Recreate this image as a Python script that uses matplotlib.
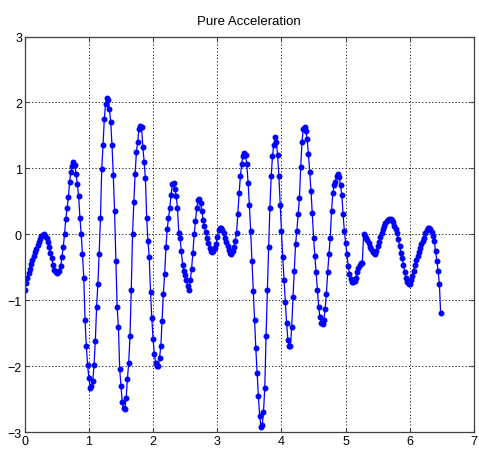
import numpy as np
import matplotlib
matplotlib.use("Agg")
import matplotlib.pyplot as plt

# sampled acceleration, one value every dt
dt = 0.02
accel = [
    -0.84, -0.74, -0.66, -0.59, -0.52, -0.45, -0.39, -0.33, -0.27, -0.22,
    -0.17, -0.12, -0.07, -0.03, -0.01, 0.00, -0.02, -0.06, -0.12, -0.20,
    -0.28, -0.36, -0.46, -0.54, -0.58, -0.59, -0.58, -0.56, -0.48, -0.35,
    -0.20, 0.00, 0.23, 0.40, 0.56, 0.80, 0.95, 1.04, 1.10, 1.05,
    0.92, 0.76, 0.58, 0.25, 0.00, -0.30, -0.66, -1.30, -1.70, -1.99,
    -2.18, -2.33, -2.30, -2.23, -1.98, -1.62, -1.10, -0.75, -0.30, 0.25,
    0.99, 1.35, 1.75, 1.98, 2.06, 2.03, 1.90, 1.70, 1.35, 0.90,
    0.35, -0.40, -1.11, -1.40, -2.05, -2.30, -2.55, -2.64, -2.65, -2.48,
    -2.20, -1.95, -1.55, -0.84, 0.00, 0.49, 0.91, 1.25, 1.40, 1.60,
    1.65, 1.63, 1.33, 1.10, 0.85, 0.25, -0.10, -0.35, -0.88, -1.27,
    -1.59, -1.82, -1.95, -2.00, -2.00, -1.88, -1.70, -1.32, -0.90, -0.60,
    -0.20, 0.08, 0.24, 0.40, 0.60, 0.76, 0.78, 0.68, 0.58, 0.40,
    0.02, -0.05, -0.25, -0.46, -0.55, -0.62, -0.70, -0.79, -0.84, -0.70,
    -0.52, -0.28, 0.00, 0.20, 0.40, 0.52, 0.53, 0.48, 0.35, 0.22,
    0.12, 0.04, -0.06, -0.14, -0.21, -0.26, -0.27, -0.25, -0.21, -0.15,
    -0.04, 0.06, 0.10, 0.10, 0.07, 0.02, -0.05, -0.11, -0.18, -0.24,
    -0.29, -0.30, -0.26, -0.20, -0.10, 0.02, 0.30, 0.62, 0.88, 1.06,
    1.19, 1.24, 1.20, 1.06, 0.78, 0.45, 0.05, -0.40, -0.86, -1.30,
    -1.72, -2.10, -2.45, -2.75, -2.92, -2.90, -2.70, -2.33, -1.55, -0.85,
    -0.20, 0.40, 0.88, 1.18, 1.36, 1.47, 1.40, 1.20, 0.88, 0.45,
    0.05, -0.35, -0.70, -1.02, -1.35, -1.60, -1.70, -1.70, -1.40, -0.95,
    -0.55, -0.15, 0.05, 0.30, 0.55, 1.02, 1.40, 1.60, 1.62, 1.56,
    1.44, 1.22, 0.95, 0.66, 0.32, -0.05, -0.33, -0.58, -0.85, -1.10,
    -1.26, -1.34, -1.36, -1.30, -1.14, -0.90, -0.58, -0.30, -0.05, 0.35,
    0.62, 0.74, 0.80, 0.88, 0.91, 0.87, 0.74, 0.60, 0.30, 0.05,
    -0.14, -0.30, -0.48, -0.60, -0.68, -0.72, -0.73, -0.71, -0.66, -0.58,
    -0.51, -0.46, -0.43, -0.43, 0.00, -0.02, -0.05, -0.09, -0.14, -0.19,
    -0.23, -0.27, -0.29, -0.30, -0.25, -0.18, -0.11, -0.04, 0.02, 0.08,
    0.13, 0.17, 0.20, 0.22, 0.23, 0.23, 0.21, 0.18, 0.13, 0.08,
    0.02, -0.07, -0.18, -0.28, -0.36, -0.46, -0.58, -0.66, -0.72, -0.75,
    -0.76, -0.70, -0.63, -0.55, -0.46, -0.39, -0.33, -0.27, -0.21, -0.15,
    -0.10, -0.05, 0.02, 0.06, 0.09, 0.10, 0.08, 0.04, -0.03, -0.10,
    -0.25, -0.40, -0.55, -0.75, -1.20,
]
xticks = [0, 1, 2, 3, 4, 5, 6, 7]
yticks = [-3, -2, -1, 0, 1, 2, 3]

t = np.arange(len(accel)) * dt

plt.rcParams['font.family'] = ['Liberation Sans', 'DejaVu Sans']

fig = plt.figure(figsize=(4.79, 4.52), dpi=100)
ax = fig.add_axes([0.0516, 0.042, 0.938, 0.875])

ax.plot(t, accel, color='#0000ff', lw=0.9, marker='.', ms=6.5)

ax.set_xlim(0, 7)
ax.set_ylim(-3, 3)
ax.set_xticks(xticks)
ax.set_yticks(yticks)
ax.grid(True, color='black', linestyle=(0, (1.5, 2.5)), linewidth=0.6)
ax.tick_params(direction='in', length=3, width=0.8, color='#404040',
               labelsize=9, top=True, right=True, pad=2)
for s in ax.spines.values():
    s.set_color('#404040')
    s.set_linewidth(0.9)

ax.set_title('Pure Acceleration', fontsize=9.5, pad=9)

fig.savefig('out.png', dpi=100)
